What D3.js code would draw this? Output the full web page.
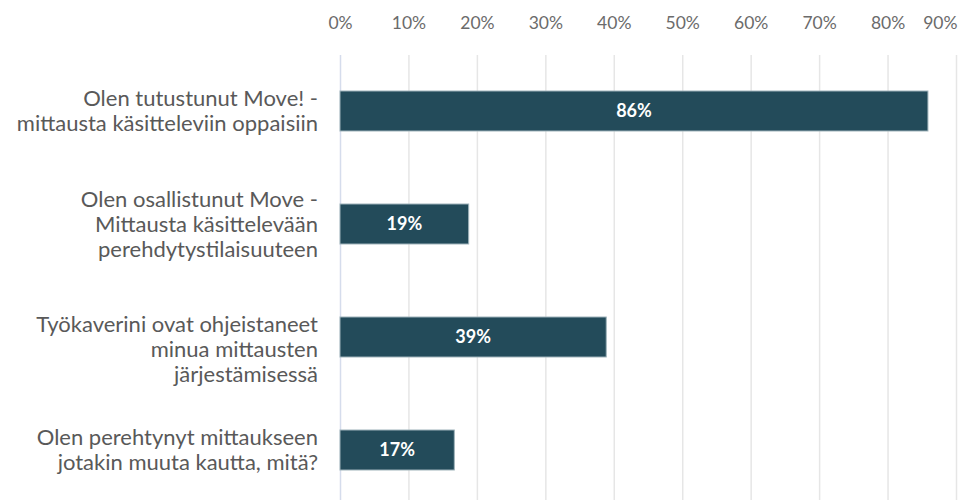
<!DOCTYPE html>
<html>
<head>
<meta charset="utf-8">
<script src="https://cdn.jsdelivr.net/npm/d3@7"></script>
<style>
  body { margin: 0; background: #fff; }
  text { font-family: Lato, "Open Sans", sans-serif; }
</style>
</head>
<body>
<div id="chart"></div>
<script>

// category labels, already split into lines (third one sits one line lower in the original)
let categories = [
    ["Olen tutustunut Move! -", "mittausta käsitteleviin oppaisiin"],
    ["Olen osallistunut Move -", "Mittausta käsittelevään", "perehdytystilaisuuteen"],
    ["", "Työkaverini ovat ohjeistaneet", "minua mittausten", "järjestämisessä"],
    ["Olen perehtynyt mittaukseen", "jotakin muuta kautta, mitä?"]
];
let values = [85.9, 18.8, 38.9, 16.7];
let valueLabels = ["86%", "19%", "39%", "17%"];
let tickValues = [0, 10, 20, 30, 40, 50, 60, 70, 80, 90];

let width = 958,
    height = 500;

let svg = d3.select("#chart").append("svg")
    .attr("width", width)
    .attr("height", height);

let x = d3.scaleLinear()
    .domain([0, 90])
    .range([340, 956]);

let y = d3.scaleBand()
    .domain(d3.range(categories.length))
    .range([54.5, 506.5])
    .paddingInner(0.646)
    .paddingOuter(0.323);

// gridlines
svg.append("g").selectAll("line")
    .data(tickValues)
    .enter()
    .append("line")
    .attr("x1", d => x(d) + 0.5)
    .attr("x2", d => x(d) + 0.5)
    .attr("y1", 55)
    .attr("y2", height)
    .attr("stroke", d => d == 0 ? "#d5dcec" : "#e6e6e6")
    .attr("stroke-width", 1.5);

// top axis labels
let axis = svg.append("g")
    .attr("transform", "translate(0,29)")
    .call(d3.axisTop(x)
        .tickValues(tickValues)
        .tickSize(0)
        .tickPadding(0)
        .tickFormat(d => d + "%"));
axis.select(".domain").remove();
axis.selectAll("text")
    .attr("font-size", "17.5px")
    .attr("fill", "#6b6b6b")
    .style("font-family", "Lato, sans-serif")
    .attr("text-anchor", d => d == 90 ? "end" : "middle")
    .attr("dx", d => d == 90 ? "1" : "0");

// bars
svg.append("g").selectAll("rect")
    .data(values)
    .enter()
    .append("rect")
    .attr("x", x(0))
    .attr("y", (d, i) => y(i))
    .attr("width", d => x(d) - x(0))
    .attr("height", y.bandwidth())
    .attr("fill", "#234b5a")
    .attr("stroke", "#9fb3ba")
    .attr("stroke-width", 1);

// value labels in bars
svg.append("g").selectAll("text")
    .data(values)
    .enter()
    .append("text")
    .attr("x", d => (x(0) + x(d)) / 2)
    .attr("y", (d, i) => y(i) + y.bandwidth() / 2)
    .attr("dy", "0.36em")
    .attr("text-anchor", "middle")
    .attr("font-size", "18px")
    .attr("font-weight", "bold")
    .attr("fill", "#ffffff")
    .text((d, i) => valueLabels[i]);

// category labels
let lineHeight = 25;
let cats = svg.append("g").selectAll("text")
    .data(categories)
    .enter()
    .append("text")
    .attr("text-anchor", "end")
    .attr("font-size", "22px")
    .attr("fill", "#595959");

cats.each(function(lines, i) {
    let cy = y(i) + y.bandwidth() / 2;
    let top = cy - (lines.length - 1) * lineHeight / 2;
    d3.select(this).selectAll("tspan")
        .data(lines)
        .enter()
        .append("tspan")
        .attr("x", 318)
        .attr("y", (d, j) => top + j * lineHeight)
        .attr("dy", "0.35em")
        .text(d => d);
});
</script>
</body>
</html>
